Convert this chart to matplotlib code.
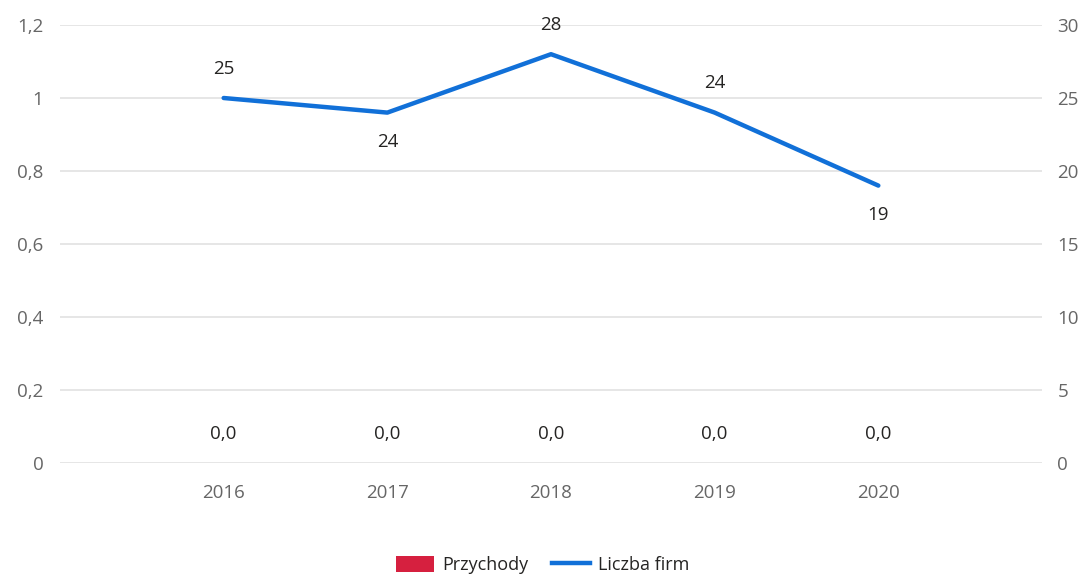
import matplotlib
matplotlib.use("Agg")
import matplotlib.pyplot as plt
from matplotlib.patches import Patch
from matplotlib.lines import Line2D

years = ["2016", "2017", "2018", "2019", "2020"]
przychody = [0.0, 0.0, 0.0, 0.0, 0.0]
liczba_firm = [25, 24, 28, 24, 19]
label_above = [True, False, True, True, False]

left_ticks = [0, 0.2, 0.4, 0.6, 0.8, 1, 1.2]
left_labels = ["0", "0,2", "0,4", "0,6", "0,8", "1", "1,2"]
right_ticks = [0, 5, 10, 15, 20, 25, 30]

bar_color = "#d6203f"
line_color = "#1170d8"
grid_color = "#e1e1e1"
tick_color = "#666666"
text_color = "#252423"

plt.rcParams["font.family"] = ["Open Sans", "DejaVu Sans"]

fs = 13.5

fig = plt.figure(figsize=(10.85, 5.75), dpi=100)
ax = fig.add_axes([60 / 1085, 1 - 463 / 575, 982 / 1085, 438 / 575])
ax2 = ax.twinx()

x = list(range(len(years)))

ax.bar(x, przychody, width=0.6, color=bar_color, zorder=2)
ax.set_xlim(-1, 5)
ax.set_ylim(0, 1.2)
ax.set_yticks(left_ticks)
ax.set_yticklabels(left_labels)
ax.set_xticks(x)
ax.set_xticklabels(years)
ax.grid(axis="y", color=grid_color, linewidth=1.2)
ax.set_axisbelow(True)
for s in ax.spines.values():
    s.set_visible(False)
ax.tick_params(axis="both", length=0, labelsize=fs, colors=tick_color)
ax.tick_params(axis="x", pad=15)
ax.tick_params(axis="y", pad=12)

for xi, v in zip(x, przychody):
    ax.annotate(f"{v:.1f}".replace(".", ","), (xi, v), xytext=(0, 21),
                textcoords="offset points", ha="center", va="center",
                fontsize=fs, color=text_color)

ax2.plot(x, liczba_firm, color=line_color, linewidth=3.2,
         solid_capstyle="round", solid_joinstyle="round", zorder=3)
ax2.set_ylim(0, 30)
ax2.set_yticks(right_ticks)
for s in ax2.spines.values():
    s.set_visible(False)
ax2.tick_params(axis="y", length=0, labelsize=fs, colors=tick_color, pad=11)

for xi, v, up in zip(x, liczba_firm, label_above):
    ax2.annotate(str(v), (xi, v), xytext=(0, 21 if up else -21),
                 textcoords="offset points", ha="center", va="center",
                 fontsize=fs, color=text_color)

handles = [Patch(facecolor=bar_color, edgecolor="none"),
           Line2D([0], [0], color=line_color, linewidth=3.2)]
fig.legend(handles, ["Przychody", "Liczba firm"], loc="center",
           bbox_to_anchor=(0.5, 1 - 565 / 575), ncol=2, frameon=False,
           fontsize=13, handlelength=2.1, handleheight=1.0,
           columnspacing=1.3, handletextpad=0.45, labelcolor=text_color)

fig.savefig("out.png", dpi=100)
